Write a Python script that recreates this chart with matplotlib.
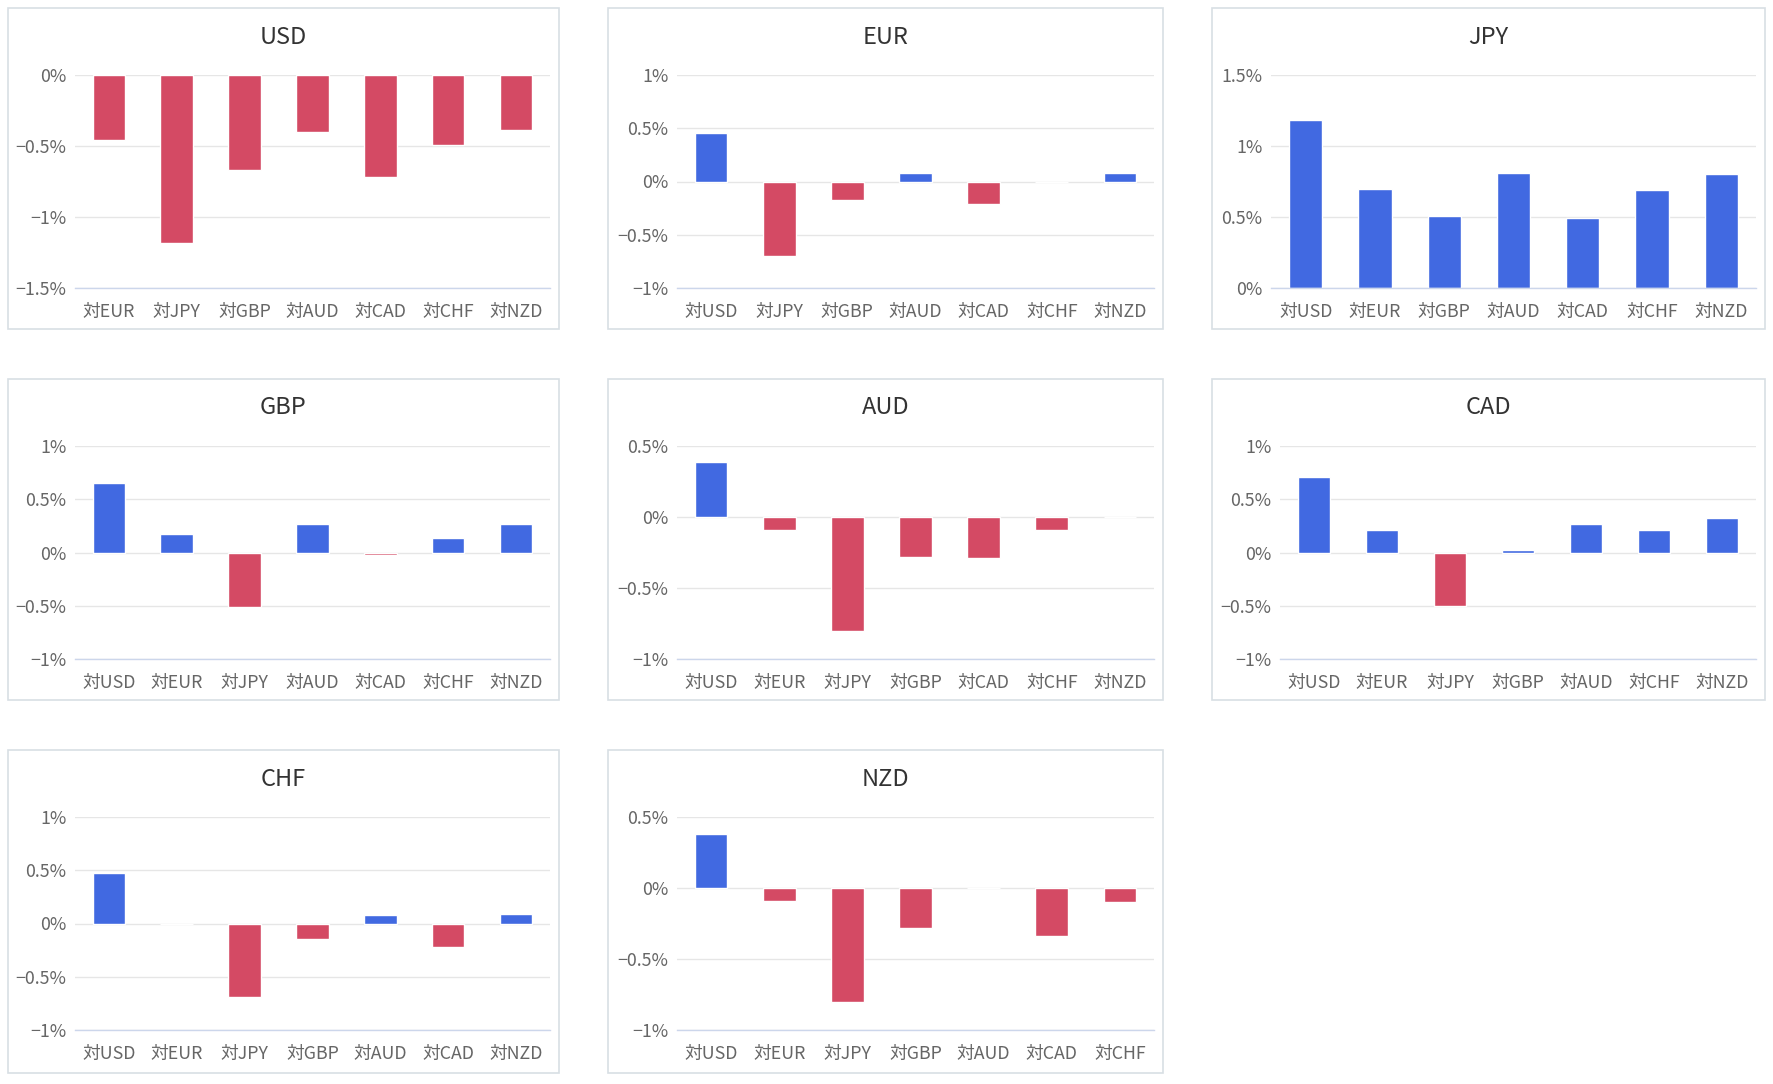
"""
通貨別の騰落率（対各通貨）を8枚の棒グラフで並べる
"""

import matplotlib
matplotlib.use('Agg')
import matplotlib.pyplot as plt
import matplotlib.patches as patches
from matplotlib.ticker import FuncFormatter, MultipleLocator

plt.rcParams['font.family'] = ['Noto Sans CJK JP', 'DejaVu Sans']
plt.rcParams['axes.unicode_minus'] = True

# 各通貨の対他通貨騰落率 (%)
currencies = ['USD', 'EUR', 'JPY', 'GBP', 'AUD', 'CAD', 'CHF', 'NZD']

usd_labels = ['対EUR', '対JPY', '対GBP', '対AUD', '対CAD', '対CHF', '対NZD']
usd_values = [-0.46, -1.18, -0.67, -0.40, -0.72, -0.49, -0.39]

eur_labels = ['対USD', '対JPY', '対GBP', '対AUD', '対CAD', '対CHF', '対NZD']
eur_values = [0.46, -0.70, -0.17, 0.08, -0.21, 0.0, 0.08]

jpy_labels = ['対USD', '対EUR', '対GBP', '対AUD', '対CAD', '対CHF', '対NZD']
jpy_values = [1.18, 0.70, 0.51, 0.81, 0.49, 0.69, 0.80]

gbp_labels = ['対USD', '対EUR', '対JPY', '対AUD', '対CAD', '対CHF', '対NZD']
gbp_values = [0.65, 0.17, -0.51, 0.27, -0.02, 0.14, 0.27]

aud_labels = ['対USD', '対EUR', '対JPY', '対GBP', '対CAD', '対CHF', '対NZD']
aud_values = [0.39, -0.09, -0.80, -0.28, -0.29, -0.09, 0.0]

cad_labels = ['対USD', '対EUR', '対JPY', '対GBP', '対AUD', '対CHF', '対NZD']
cad_values = [0.71, 0.21, -0.50, 0.02, 0.27, 0.21, 0.32]

chf_labels = ['対USD', '対EUR', '対JPY', '対GBP', '対AUD', '対CAD', '対NZD']
chf_values = [0.47, 0.0, -0.69, -0.15, 0.08, -0.22, 0.09]

nzd_labels = ['対USD', '対EUR', '対JPY', '対GBP', '対AUD', '対CAD', '対CHF']
nzd_values = [0.38, -0.09, -0.80, -0.28, 0.0, -0.34, -0.10]

# 縦軸の範囲
y_ranges = {
    'USD': (-1.5, 0), 'EUR': (-1, 1), 'JPY': (0, 1.5), 'GBP': (-1, 1),
    'AUD': (-1, 0.5), 'CAD': (-1, 1), 'CHF': (-1, 1), 'NZD': (-1, 0.5),
}

data = {
    'USD': (usd_labels, usd_values), 'EUR': (eur_labels, eur_values),
    'JPY': (jpy_labels, jpy_values), 'GBP': (gbp_labels, gbp_values),
    'AUD': (aud_labels, aud_values), 'CAD': (cad_labels, cad_values),
    'CHF': (chf_labels, chf_values), 'NZD': (nzd_labels, nzd_values),
}

POS_COLOR = '#4169e1'
NEG_COLOR = '#d44a64'

W, H = 1774, 1084
fig = plt.figure(figsize=(W / 100, H / 100), dpi=100)

# パネル枠 (px)
col_x = [(8, 559), (608, 1163), (1212, 1765)]
row_y = [(8, 329), (379, 700), (750, 1073)]
# 目盛りラベル幅に応じた左余白
left_off = {'USD': 67, 'EUR': 69, 'JPY': 59, 'GBP': 67,
            'AUD': 69, 'CAD': 68, 'CHF': 67, 'NZD': 69}


def fmt_pct(v, pos):
    if abs(v) < 1e-9:
        return '0%'
    s = f'{abs(v):g}%'
    return ('\u2212' + s) if v < 0 else s


def draw_panel(cur, bx, by):
    labels, values = data[cur]
    x0, x1 = bx
    y0, y1 = by

    # 枠線
    fig.patches.append(patches.Rectangle(
        (x0 / W, 1 - y1 / H), (x1 - x0) / W, (y1 - y0) / H,
        transform=fig.transFigure, fill=False,
        edgecolor='#d8dfe4', linewidth=1.2))

    # タイトル
    fig.text((x0 + x1) / 2 / W, 1 - (y0 + 29) / H, cur,
             ha='center', va='center', fontsize=17, color='#333333')

    left = x0 + left_off[cur]
    right = x1 - 9
    top = y0 + 67
    height = 213
    ax = fig.add_axes([left / W, 1 - (top + height) / H,
                       (right - left) / W, height / H])

    colors = [POS_COLOR if v >= 0 else NEG_COLOR for v in values]
    ax.bar(range(len(values)), values, width=0.48, color=colors,
           edgecolor='white', linewidth=1.0, zorder=2)

    lo, hi = y_ranges[cur]
    ax.set_ylim(lo, hi)
    ax.set_xlim(-0.5, len(values) - 0.5)
    ax.yaxis.set_major_locator(MultipleLocator(0.5))
    ax.yaxis.set_major_formatter(FuncFormatter(fmt_pct))
    ax.set_xticks(range(len(labels)))
    ax.set_xticklabels(labels)

    ax.set_axisbelow(True)
    ax.yaxis.grid(True, color='#e6e6e6', linewidth=1.0)
    for side in ['top', 'right', 'left']:
        ax.spines[side].set_visible(False)
    ax.spines['bottom'].set_color('#ccd6eb')
    ax.spines['bottom'].set_linewidth(1.0)
    ax.spines['bottom'].set_zorder(3)

    ax.tick_params(axis='both', length=0, labelcolor='#666666')
    ax.tick_params(axis='y', labelsize=12.8, pad=6)
    ax.tick_params(axis='x', labelsize=12.8, pad=10.5)
    ax.set_facecolor('white')


for i, cur in enumerate(currencies):
    r, c = divmod(i, 3)
    draw_panel(cur, col_x[c], row_y[r])

fig.savefig('out.png', dpi=100, facecolor='white')
